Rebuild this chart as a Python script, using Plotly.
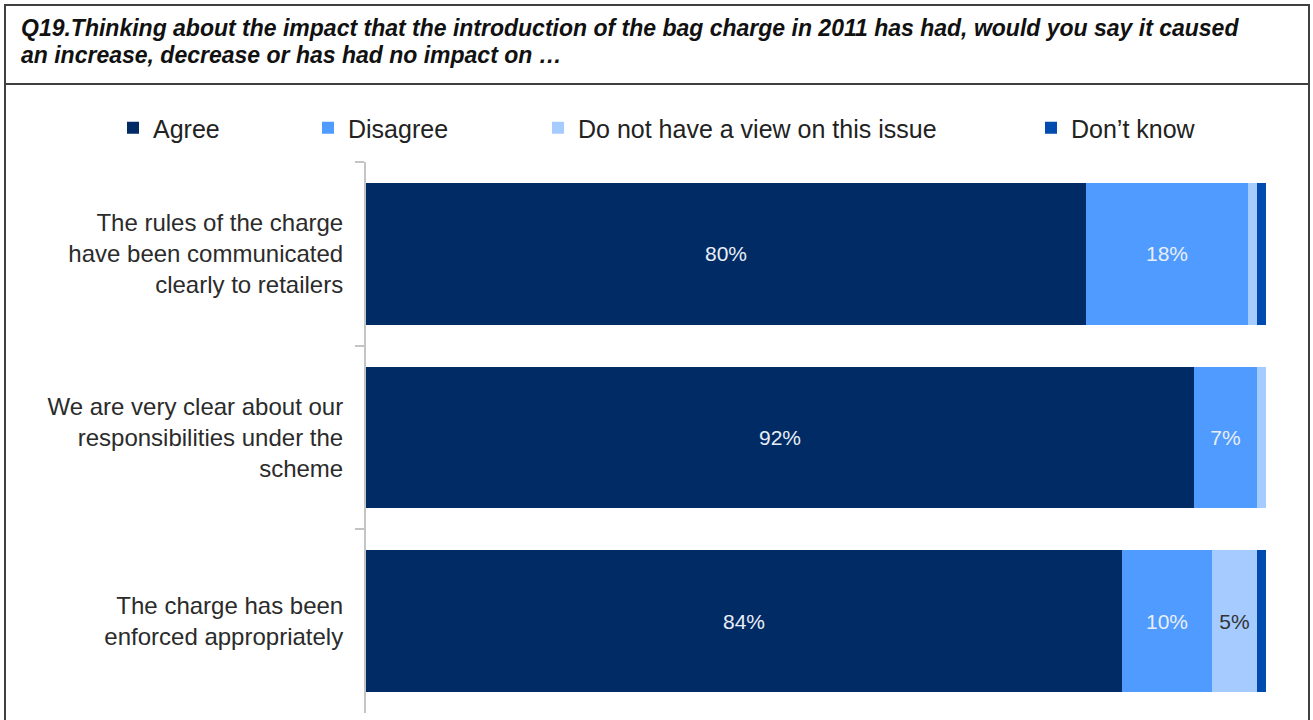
import plotly.graph_objects as go

# Survey statements (top to bottom) and the share of answers for each response
categories = [
    "The rules of the charge<br>have been communicated<br>clearly to retailers",
    "We are very clear about our<br>responsibilities under the<br>scheme",
    "The charge has been<br>enforced appropriately",
]
agree = [80, 92, 84]
disagree = [18, 7, 10]
no_view = [1, 1, 5]
dont_know = [1, 0, 1]

series_names = ["Agree", "Disagree", "Do not have a view on this issue", "Don\u2019t know"]
series_values = [agree, disagree, no_view, dont_know]
series_colors = ["#002B65", "#4F9BFF", "#A6CBFF", "#004BAF"]
label_colors = ["#E9EEF6", "#E9EEF6", "#333333", "#E9EEF6"]

title_lines = [
    "Q19.Thinking about the impact that the introduction of the bag charge in 2011 has had, would you say it caused",
    "an increase, decrease or has had no impact on \u2026",
]

FONT = "Liberation Sans, Arial, sans-serif"
W, H = 1313, 720
# plot area in pixels
L, R, T, B = 366, 1266, 162, 713


def px(x):
    return (x - L) / (R - L)


def py(y):
    return (B - y) / (B - T)


fig = go.Figure()
legend_text_x = [153, 348, 578, 1071]
legend_ids = ["legend", "legend2", "legend3", "legend4"]

for i, (name, vals, col, lcol) in enumerate(zip(series_names, series_values, series_colors, label_colors)):
    fig.add_trace(go.Bar(
        y=categories,
        x=vals,
        name=name,
        orientation="h",
        marker=dict(color=col, line=dict(width=0)),
        text=[f"{v}%" if v >= 5 else "" for v in vals],
        textposition="inside",
        insidetextanchor="middle",
        textangle=0,
        textfont=dict(family=FONT, size=21, color=lcol),
        hoverinfo="skip",
        legend=legend_ids[i],
    ))

legend_layouts = {}
for i, lid in enumerate(legend_ids):
    legend_layouts[lid] = dict(
        x=px(legend_text_x[i] - 40), y=py(128),
        xanchor="left", yanchor="middle",
        orientation="h",
        font=dict(family=FONT, size=25, color="#222222"),
        bgcolor="rgba(0,0,0,0)", borderwidth=0,
    )

fig.update_layout(
    width=W, height=H,
    margin=dict(l=L, r=W - R, t=T, b=H - B, pad=0),
    barmode="stack",
    bargap=0.227,
    plot_bgcolor="white",
    paper_bgcolor="white",
    font=dict(family=FONT),
    showlegend=True,
    **legend_layouts,
)

fig.update_xaxes(range=[0, 100], visible=False, showgrid=False, zeroline=False)
fig.update_yaxes(
    range=[2.5, -0.5],
    showgrid=False, zeroline=False,
    showline=True, linecolor="#C4C4C4", linewidth=2,
    ticks="outside", tickson="boundaries", ticklen=9, tickcolor="#C4C4C4", tickwidth=2,
    ticklabelstandoff=16,
    tickfont=dict(family=FONT, size=24, color="#2B2B2B"),
)

# frame: outer border and divider under the question text
fig.add_shape(type="rect", xref="paper", yref="paper",
              x0=px(5), x1=px(1309), y0=py(5), y1=py(730),
              line=dict(color="#404040", width=2), fillcolor="rgba(0,0,0,0)", layer="below")
fig.add_shape(type="line", xref="paper", yref="paper",
              x0=px(5), x1=px(1309), y0=py(84), y1=py(84),
              line=dict(color="#404040", width=2))

for j, line in enumerate(title_lines):
    fig.add_annotation(
        xref="paper", yref="paper",
        x=px(19), y=py(28 + 27 * j),
        xanchor="left", yanchor="middle",
        text=f"<b><i>{line}</i></b>",
        showarrow=False,
        font=dict(family=FONT, size=23, color="#111111"),
    )

fig.write_html("out.html")
